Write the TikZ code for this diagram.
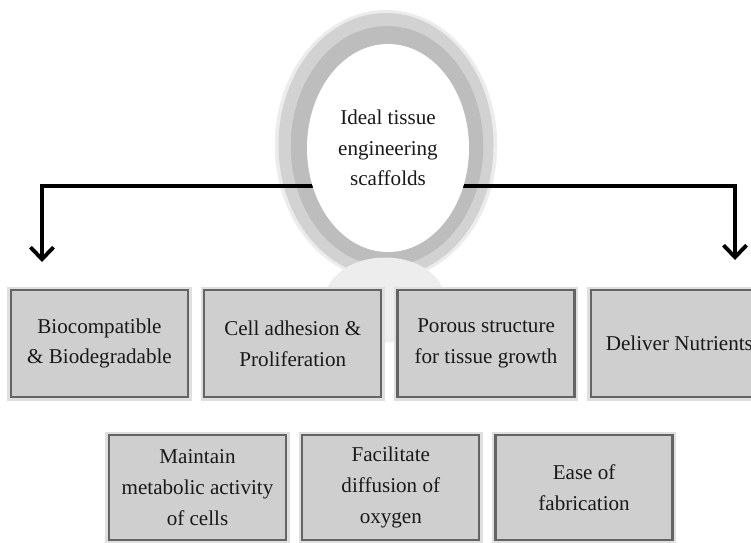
\documentclass[tikz,border=0pt]{standalone}
\usepackage{fontspec}
\setmainfont{Liberation Serif}
\usetikzlibrary{positioning}
\usetikzlibrary{arrows.meta}
\usetikzlibrary{shapes.geometric}
\definecolor{boxfill}{RGB}{207,207,207}
\definecolor{boxline}{RGB}{100,100,100}
\definecolor{ink}{RGB}{25,25,25}

\begin{document}
\begin{tikzpicture}[
    feature/.style={rectangle, draw=boxline, line width=1.3pt, fill=boxfill,
        preaction={draw=gray!25, line width=4pt},
        minimum width=3.54cm, minimum height=2.14cm, inner sep=2pt,
        align=center, text=ink, font=\fontsize{12}{17.5}\selectfont},
    halo/.style={ellipse, draw=none, inner sep=0pt},
    arrow/.style={->, line width=2.2pt, black},
    >={Straight Barb[length=2.4mm, width=4.6mm]}
]
    \useasboundingbox (0,0) rectangle (15.02,-10.84);

    % grey ring round the title
    \node[halo, fill=gray!15, minimum width=4.45cm, minimum height=5.4cm] (glow) at (7.72,-2.9) {};
    \node[halo, fill=gray!35, minimum width=4.3cm, minimum height=5.28cm] (ring) at (7.72,-2.9) {};
    \node[halo, fill=gray!52, minimum width=3.85cm, minimum height=4.8cm] (band) at (7.74,-2.92) {};
    \node[halo, fill=gray!14, minimum width=2.4cm, minimum height=1.7cm] (dome) at (7.7,-6.0) {};

    \coordinate (lturn) at (0.84,-3.72);
    \coordinate (ltip) at (0.84,-5.24);
    \coordinate (rturn) at (14.7,-3.72);
    \coordinate (rtip) at (14.7,-5.2);

    \draw[arrow] (ring.center |- lturn) -- (lturn) -- (ltip);
    \draw[arrow] (ring.center |- rturn) -- (rturn) -- (rtip);

    \node[halo, fill=white, minimum width=3.24cm, minimum height=4.16cm, align=center,
        text=ink, font=\fontsize{12}{17.5}\selectfont] (core) at (7.76,-2.96)
        {Ideal tissue\\engineering\\scaffolds};

    % first row
    \node[feature] (biocomp) at (1.99,-6.87) {Biocompatible\\\& Biodegradable};
    \node[feature, right=0.28cm of biocomp] (adhesion) {Cell adhesion \&\\Proliferation};
    \node[feature, right=0.28cm of adhesion] (porous) {Porous structure\\for tissue growth};
    \node[feature, right=0.28cm of porous] (nutrients) {Deliver Nutrients};

    % second row
    \node[feature, minimum height=2.1cm] (metabolic) at (3.95,-9.75) {Maintain\\metabolic activity\\of cells};
    \node[feature, minimum height=2.1cm, right=0.28cm of metabolic] (diffusion) {Facilitate\\diffusion of\\oxygen};
    \node[feature, minimum height=2.1cm, right=0.28cm of diffusion] (fabrication) {Ease of\\fabrication};
\end{tikzpicture}
\end{document}
